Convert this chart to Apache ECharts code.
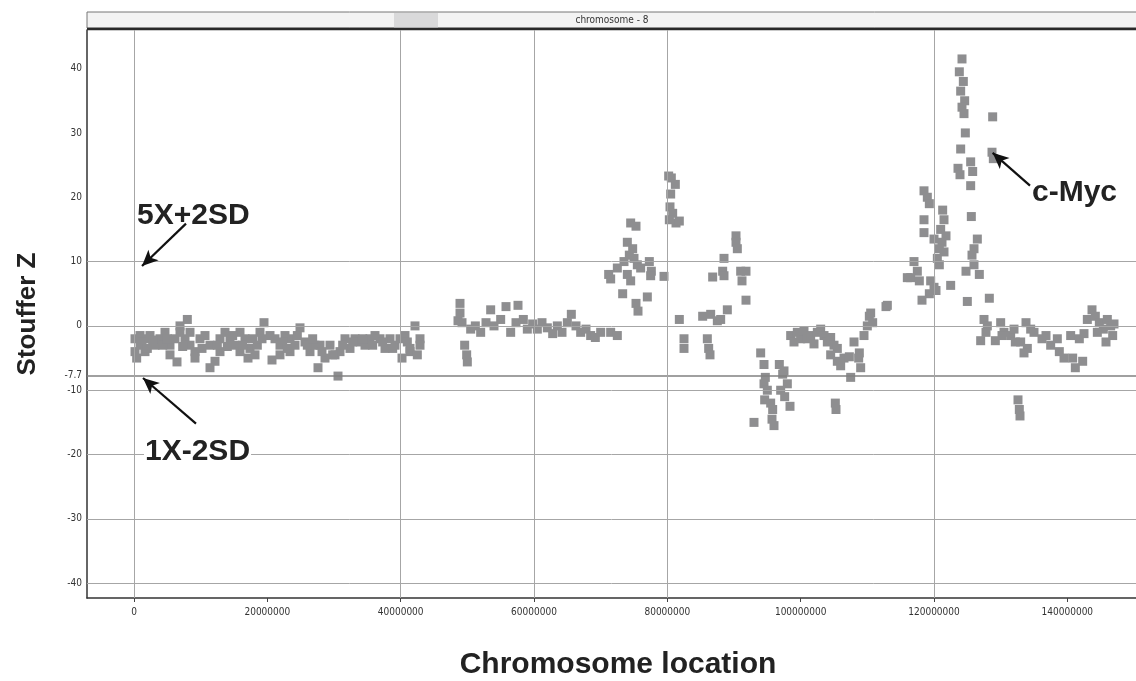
<!DOCTYPE html>
<html>
<head>
<meta charset="utf-8">
<script src="https://cdn.jsdelivr.net/npm/echarts@6/dist/echarts.min.js"></script>
<style>
  html, body { margin: 0; padding: 0; background: #fff; }
  #chart { width: 1136px; height: 681px; }
</style>
</head>
<body>
<div id="chart"></div>
<script>
// Probe positions on chromosome 8 (Mb) and their combined Stouffer Z scores
const positionMb = [
  0.15, 0.15, 0.4, 0.9, 0.9, 1.65, 1.65, 2.4, 3.15, 3.9, 4.65, 5.4, 5.4, 6.15, 6.45, 6.9, 6.9, 7.65, 8.0, 8.4, 8.4, 9.15, 9.15,
  9.9, 10.65, 11.4, 11.4, 12.15, 12.9, 12.9, 13.65, 14.4, 15.15, 15.9, 15.9, 16.65, 17.1, 17.4, 18.15, 18.9, 19.5, 20.4, 20.7,
  21.15, 21.9, 21.9, 22.65, 23.4, 23.4, 24.15, 24.9, 25.65, 26.4, 27.15, 27.6, 27.9, 28.65, 29.4, 30.15, 30.6, 30.9, 31.65,
  32.4, 33.15, 33.9, 34.65, 35.4, 36.15, 36.9, 37.65, 38.4, 39.15, 39.9, 40.2, 40.65, 41.4, 41.4, 42.15, 42.9, 42.9,
  1.2, 2.0, 2.8, 4.3, 5.0, 7.3, 10.2, 12.5, 14.0, 14.8, 16.3, 17.8, 18.5, 19.2, 22.3, 23.0, 24.5, 26.0, 26.8, 28.2,
  29.8, 31.3, 32.8, 34.3, 35.8, 37.3, 38.8, 41.0, 42.5,
  48.6, 48.9, 48.9, 49.2, 49.6, 49.9, 50.0, 50.5, 51.2, 52.0, 52.8, 53.5, 54.0, 55.0, 55.8, 56.5, 57.3, 57.6, 58.4, 59.0,
  59.8, 60.5, 61.2, 62.0, 62.8, 63.5, 64.2, 65.0, 65.6, 66.3, 67.0, 67.8, 68.5, 69.2, 70.0, 71.5, 72.5,
  74.5, 75.3, 74.0, 74.8, 75.0, 74.3, 72.5, 73.5, 75.5, 76.0, 71.2, 71.5, 74.0, 74.5, 73.3, 75.3, 75.6, 77.0, 77.3, 77.6,
  77.5, 79.5, 80.2, 80.6, 81.2, 80.5, 80.4, 80.8, 80.3, 81.3, 81.8, 81.8,
  82.5, 82.5, 85.3, 86.0, 86.2, 86.4, 86.5, 86.8, 87.5, 88.0, 88.3, 88.5, 88.5, 89.0, 90.3, 90.3, 90.5, 91.0, 91.2, 91.8, 91.8,
  93.0, 94.0, 94.5, 94.7, 94.5, 95.0, 94.6, 95.5, 95.8, 95.7, 96.0, 96.8, 97.5, 97.3, 98.0, 97.0, 97.6, 98.4,
  98.5, 99.0, 99.5, 100.0, 100.5, 101.0, 101.5, 102.0, 102.5, 103.0, 103.5, 104.0, 104.5, 105.0, 105.5,
  104.5, 105.5, 106.5, 107.3, 106.0, 107.5, 108.7, 109.0, 108.8, 108.0, 109.5, 110.0, 110.8, 110.3, 110.5,
  105.2, 105.3, 112.8, 113.0,
  124.2, 123.8, 124.4, 124.0, 124.6, 124.2, 124.5, 128.8, 124.7, 124.0, 128.7, 128.9, 123.6, 123.9, 125.5, 125.8, 125.5,
  118.5, 119.0, 119.3, 118.5, 118.5, 121.3, 121.5, 121.0, 121.8, 121.2, 120.0, 120.8, 121.5, 125.6, 126.5, 126.0, 125.7,
  120.5, 120.8, 117.0, 117.5, 116.5, 117.8, 116.0, 124.8, 126.0, 126.8, 119.5, 120.0, 119.3, 120.3, 122.5, 118.2,
  125.0, 128.3, 127.5, 128.0, 127.8, 127.0, 129.2,
  130.0, 130.5, 131.5, 132.0, 130.2, 132.2, 132.6, 132.8, 132.9, 133.0, 134.0, 133.5, 133.8, 134.5, 135.0, 136.2,
  136.8, 137.5, 138.5, 138.8, 139.5, 140.5, 141.8, 142.5, 140.8, 141.2, 142.3,
  143.0, 143.7, 144.2, 144.8, 145.4, 146.0, 146.5, 146.8, 145.8, 147.0, 144.5
];
const stoufferZ = [
  -2, -4, -5, -1.5, -3, -2, -4, -1.5, -3, -2, -1, -3, -4.5, -2, -5.6, -1, 0, -2, 1, -1, -3, -4, -5,
  -2, -1.5, -3, -6.5, -5.5, -4, -2, -1, -2, -3, -1, -4, -2, -5, -3.5, -4.5, -1, 0.5, -1.5, -5.3,
  -2, -3, -4.5, -1.5, -2, -4, -3, -0.3, -2.5, -4, -3, -6.5, -3, -5, -3, -4.5, -7.8, -4, -2,
  -3.5, -2, -2.5, -3, -2, -1.5, -2, -3.5, -2, -3, -2, -5, -1.5, -3.5, -4, 0, -2, -3,
  -2.5, -3.5, -2.2, -3, -2, -3.2, -3.5, -3, -3.2, -1.5, -3, -2, -3, -2, -2.5, -3.5, -1.5, -3, -2, -4,
  -4.5, -3, -2.5, -2, -3, -2.5, -3.5, -2.5, -4.5,
  0.8, 3.5, 2, 0.5, -3, -4.5, -5.6, -0.5, 0, -1, 0.5, 2.5, 0, 1, 3, -1, 0.5, 3.2, 1, -0.5,
  0.3, -0.5, 0.5, -0.3, -1.2, 0, -1, 0.5, 1.8, 0, -1, -0.5, -1.5, -1.8, -1, -1, -1.5,
  16, 15.5, 13, 12, 10.5, 11, 9, 10, 9.5, 9, 8, 7.3, 8, 7, 5, 3.5, 2.3, 4.5, 10, 8.5,
  7.8, 7.7, 23.3, 23, 22, 20.5, 18.5, 17.5, 16.5, 16, 16.3, 1,
  -2, -3.5, 1.5, -2, -3.5, -4.5, 1.8, 7.6, 0.8, 1, 8.5, 7.8, 10.5, 2.5, 14, 13, 12, 8.5, 7, 8.5, 4,
  -15, -4.2, -6, -8, -9, -10, -11.5, -12, -13, -14.5, -15.5, -6, -7, -7.5, -9, -10, -11, -12.5,
  -1.5, -2.5, -1, -2, -0.8, -2, -1.5, -2.8, -1, -0.5, -1.5, -2.5, -1.8, -3, -3.5,
  -4.5, -5.5, -5, -4.8, -6.2, -8, -5, -6.5, -4.2, -2.5, -1.5, 0, 0.5, 1.5, 2,
  -12, -13, 3, 3.2,
  41.5, 39.5, 38, 36.5, 35, 34, 33, 32.5, 30, 27.5, 27, 26, 24.5, 23.5, 25.5, 24, 21.8,
  21, 20, 19, 16.5, 14.5, 18, 16.5, 15, 14, 13, 13.5, 12, 11.5, 17, 13.5, 12, 11,
  10.5, 9.5, 10, 8.5, 7.5, 7, 7.5, 8.5, 9.5, 8, 7, 6, 5, 5.5, 6.3, 4,
  3.8, 4.3, 1, 0, -1, -2.3, -2.3,
  0.5, -1, -1.5, -0.5, -1.5, -2.5, -11.5, -13, -14, -2.5, -3.5, -4.2, 0.5, -0.5, -1, -2,
  -1.5, -3, -2, -4, -5, -1.5, -2, -1.2, -5, -6.5, -5.5,
  1, 2.5, 1.5, 0.5, -0.5, 1, 0, -1.5, -2.5, 0.3, -1
];

// Axis tick values and labels
const xTickValues = [0, 20000000, 40000000, 60000000, 80000000, 100000000, 120000000, 140000000];
const xGridValues = [0, 40000000, 60000000, 80000000, 120000000];
const yTickValues = [40, 30, 20, 10, 0, -7.7, -10, -20, -30, -40];
const yGridValues = [10, 0, -10, -20, -30, -40];
const lowerThreshold = -7.7;

const points = positionMb.map((p, i) => [Math.round(p * 1e6), stoufferZ[i]]);

const chart = echarts.init(document.getElementById('chart'), null, { renderer: 'canvas' });

const labelFont = { fontFamily: 'DejaVu Sans Condensed, DejaVu Sans, sans-serif', fontSize: 10, color: '#333' };
const boldFont = 'Liberation Sans, Arial, sans-serif';

// Bold callout text; the lower one masks the grid line it sits on
function note(text, x, y, masked) {
  const style = {
    text: text, fontSize: 30, fontWeight: 'bold', fontFamily: boldFont, fill: '#222',
    align: 'left', verticalAlign: 'middle'
  };
  if (masked) {
    style.backgroundColor = '#fff';
    style.padding = [0, 1];
  }
  return { type: 'text', x: x, y: y, z: 10, style: style };
}

chart.setOption({
  animation: false,
  backgroundColor: '#ffffff',
  grid: { left: 87, right: 0, top: 30, bottom: 83, containLabel: false },
  xAxis: {
    type: 'value',
    min: -7050000,
    max: 150300000,
    splitLine: { show: false },
    axisLine: { show: true, onZero: false, lineStyle: { color: '#333', width: 1.5 } },
    axisTick: { show: true, length: 4, customValues: xTickValues, lineStyle: { color: '#444' } },
    axisLabel: Object.assign({ customValues: xTickValues, margin: 9, formatter: v => String(v) }, labelFont)
  },
  yAxis: {
    type: 'value',
    min: -42.3,
    max: 46.0,
    splitLine: { show: false },
    axisLine: { show: true, onZero: false, lineStyle: { color: '#333', width: 1.5 } },
    axisTick: { show: false },
    axisLabel: Object.assign({ customValues: yTickValues, margin: 5, formatter: v => String(v) }, labelFont)
  },
  graphic: [
    // chromosome header strip
    { type: 'rect', shape: { x: 87, y: 12, width: 1060, height: 16 }, style: { fill: '#f3f3f3', stroke: '#777', lineWidth: 1 }, silent: true },
    { type: 'rect', shape: { x: 394, y: 13, width: 44, height: 15 }, style: { fill: '#d9d9da' }, silent: true },
    { type: 'line', shape: { x1: 87, y1: 29, x2: 1136, y2: 29 }, style: { stroke: '#2a2a2a', lineWidth: 2.5 }, silent: true },
    { type: 'text', x: 612, y: 20, style: { text: 'chromosome - 8', fontSize: 10, fontFamily: 'DejaVu Sans Condensed, DejaVu Sans, sans-serif', fill: '#333', align: 'center', verticalAlign: 'middle' } },
    // axis titles
    { type: 'text', x: 28, y: 314, rotation: Math.PI / 2, style: { text: 'Stouffer Z', fontSize: 26, fontWeight: 'bold', fontFamily: boldFont, fill: '#222', align: 'center', verticalAlign: 'middle' } },
    { type: 'text', x: 618, y: 665, style: { text: 'Chromosome location', fontSize: 30, fontWeight: 'bold', fontFamily: boldFont, fill: '#222', align: 'center', verticalAlign: 'middle' } },
    // annotations
    note('5X+2SD', 137, 216, false),
    note('1X-2SD', 144, 452, true),
    note('c-Myc', 1032, 193, false)
  ],
  series: [
    {
      // reference grid and threshold lines
      type: 'scatter',
      data: [],
      z: 1,
      silent: true,
      markLine: {
        silent: true,
        symbol: ['none', 'none'],
        label: { show: false },
        animation: false,
        data: [
          ...yGridValues.map(v => ({ yAxis: v, lineStyle: { color: '#a6a6a6', width: 1, type: 'solid' } })),
          { yAxis: lowerThreshold, lineStyle: { color: '#808080', width: 1.5, type: 'solid' } },
          ...xGridValues.map(v => ({ xAxis: v, lineStyle: { color: '#a6a6a6', width: 1, type: 'solid' } }))
        ]
      }
    },
    {
      type: 'scatter',
      data: points,
      symbol: 'rect',
      symbolSize: 9,
      z: 3,
      itemStyle: { color: '#8e8e90', opacity: 1 },
      emphasis: { disabled: true }
    },
    {
      // annotation arrows
      type: 'scatter',
      data: [],
      z: 5,
      silent: true,
      markLine: {
        silent: true,
        symbol: ['none', 'arrow'],
        symbolSize: [11, 16],
        label: { show: false },
        animation: false,
        lineStyle: { color: '#111', width: 2.2, type: 'solid' },
        data: [
          [{ coord: [7800000, 15.9] }, { coord: [1200000, 9.3] }],
          [{ coord: [9300000, -15.2] }, { coord: [1350000, -8.1] }],
          [{ coord: [134400000, 21.8] }, { coord: [128800000, 26.9] }]
        ]
      }
    }
  ]
});
</script>
</body>
</html>
